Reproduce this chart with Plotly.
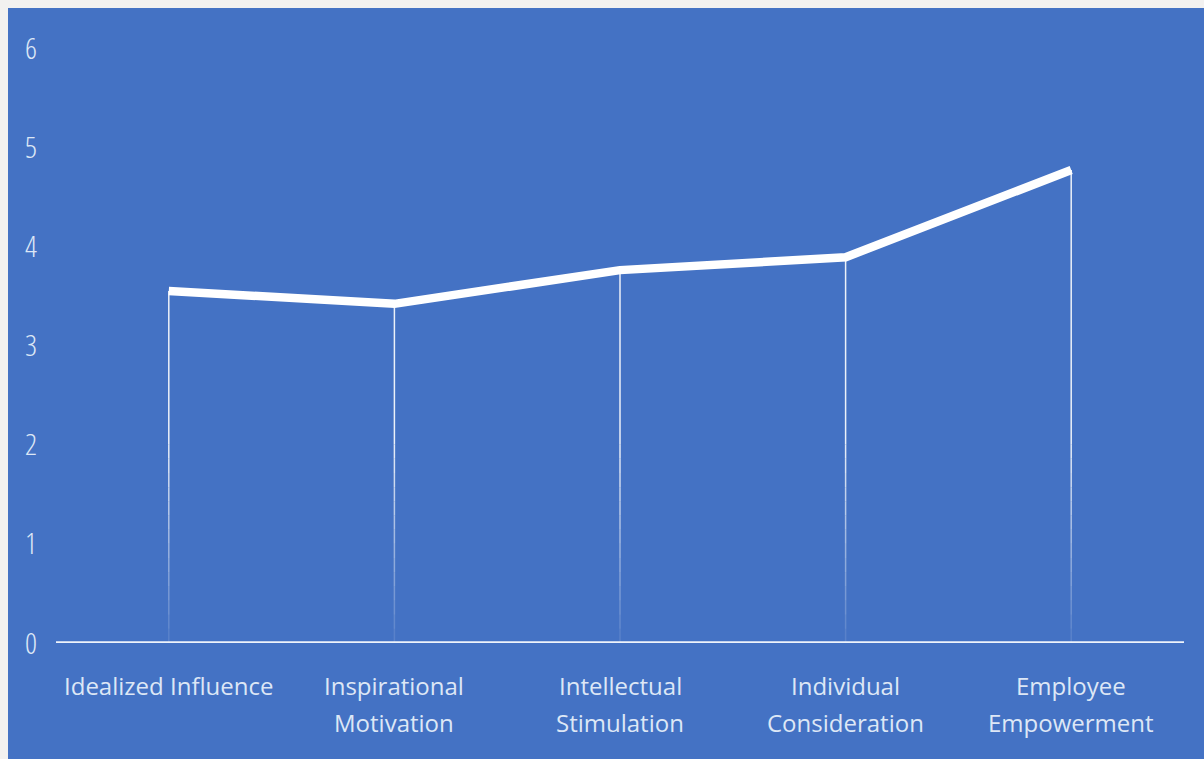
import plotly.graph_objects as go

label_line1 = ["Idealized Influence", "Inspirational", "Intellectual", "Individual", "Employee"]
label_line2 = ["", "Motivation", "Stimulation", "Consideration", "Empowerment"]
values = [3.55, 3.42, 3.76, 3.89, 4.77]
y_ticks = [0, 1, 2, 3, 4, 5, 6]

BLUE = "#4472C4"
LABEL = "#dde7f6"
FONT_X = "Open Sans, Noto Sans, sans-serif"
FONT_Y = "Open Sans Condensed Light, Open Sans Condensed, Open Sans, sans-serif"

fig = go.Figure()

xs_idx = list(range(len(values)))

# drop lines with fading bottom segment
fade_top = 2.0
steps = 14
for s in range(steps):
    y0 = fade_top * s / steps
    y1 = fade_top * (s + 1) / steps
    xx, yy = [], []
    for i in xs_idx:
        xx += [i, i, None]
        yy += [y0, y1, None]
    fig.add_trace(go.Scatter(x=xx, y=yy, mode="lines",
                             line=dict(color="white", width=1.5),
                             opacity=0.08 + 0.8 * (s + 0.5) / steps,
                             hoverinfo="skip", showlegend=False))
xx, yy = [], []
for i, v in zip(xs_idx, values):
    xx += [i, i, None]
    yy += [fade_top, v, None]
fig.add_trace(go.Scatter(x=xx, y=yy, mode="lines",
                         line=dict(color="white", width=1.5), opacity=0.9,
                         hoverinfo="skip", showlegend=False))

# main line
fig.add_trace(go.Scatter(x=xs_idx, y=values, mode="lines",
                         line=dict(color="white", width=8.5),
                         showlegend=False))

# x axis line at 0
fig.add_trace(go.Scatter(x=[-0.5, 4.5], y=[0, 0], mode="lines",
                         line=dict(color="#eef3fb", width=3.5),
                         hoverinfo="skip", showlegend=False))

PLOT_TOP, PLOT_BOTTOM = 48, 643
H = PLOT_BOTTOM - PLOT_TOP


def py(px):
    return (PLOT_BOTTOM - px) / H


annotations = []
lab_font = dict(family=FONT_X, size=24, color=LABEL)
for i, (a, b) in enumerate(zip(label_line1, label_line2)):
    annotations.append(dict(x=i, y=py(685), xref="x", yref="paper", text=a, showarrow=False,
                            xanchor="center", yanchor="middle", font=lab_font))
    if b:
        annotations.append(dict(x=i, y=py(722), xref="x", yref="paper", text=b, showarrow=False,
                                xanchor="center", yanchor="middle", font=lab_font))

fig.update_layout(
    width=1204, height=759,
    margin=dict(l=56, r=20, t=PLOT_TOP, b=759 - PLOT_BOTTOM),
    paper_bgcolor=BLUE, plot_bgcolor=BLUE,
    font=dict(family=FONT_X, color=LABEL, size=24),
    xaxis=dict(range=[-0.5, 4.5], tickmode="array", tickvals=xs_idx, ticktext=[""] * len(xs_idx),
               showgrid=False, zeroline=False, showline=False, ticks=""),
    yaxis=dict(range=[0, 6], tickmode="array", tickvals=y_ticks, ticktext=[str(t) for t in y_ticks],
               showgrid=False, zeroline=False, showline=False, ticks="",
               ticklabelstandoff=18,
               tickfont=dict(size=30, color=LABEL, family=FONT_Y, weight=300)),
    annotations=annotations,
    shapes=[
        dict(type="rect", xref="paper", yref="paper", x0=-0.06, x1=1.05, y0=py(8), y1=1.1,
             fillcolor="#f2f1f0", line=dict(width=0), layer="below"),
        dict(type="rect", xref="paper", yref="paper", x0=-0.06, x1=(8 - 56) / 1128, y0=-0.25, y1=1.1,
             fillcolor="#f2f1f0", line=dict(width=0), layer="below"),
    ],
)

fig.write_html("out.html")
